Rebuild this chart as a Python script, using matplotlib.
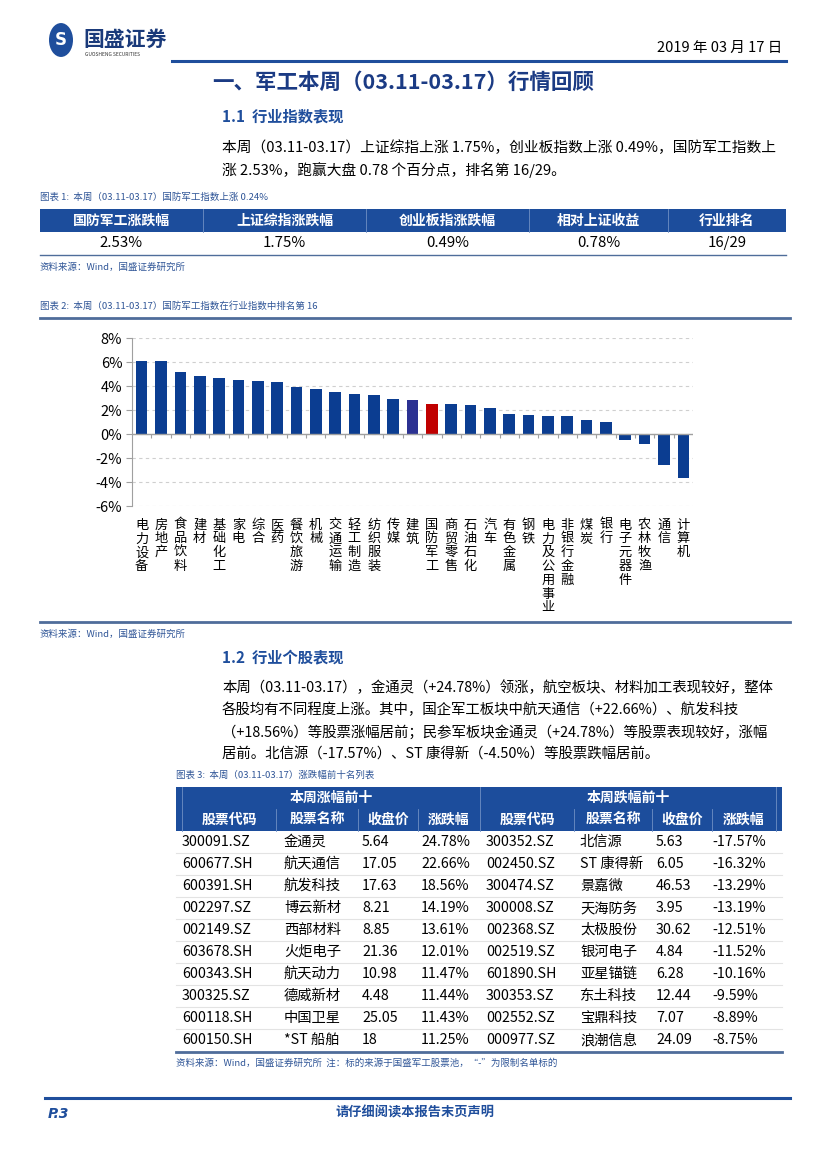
import numpy as np
import matplotlib
matplotlib.use('Agg')
import matplotlib.pyplot as plt
from matplotlib.patches import Rectangle, Circle
from matplotlib.ticker import MultipleLocator, FuncFormatter

plt.rcParams['font.family'] = ['Noto Sans CJK SC', 'DejaVu Sans']

W, H = 827, 1169

# ---------------- dados ----------------
industries = ['电力设备', '房地产', '食品饮料', '建材', '基础化工', '家电', '综合', '医药',
              '餐饮旅游', '机械', '交通运输', '轻工制造', '纺织服装', '传媒', '建筑', '国防军工',
              '商贸零售', '石油石化', '汽车', '有色金属', '钢铁', '电力及公用事业', '非银行金融',
              '煤炭', '银行', '电子元器件', '农林牧渔', '通信', '计算机']
pct = [6.11, 6.10, 5.15, 4.80, 4.68, 4.46, 4.38, 4.30, 3.93, 3.76, 3.52, 3.31, 3.24, 2.88,
       2.80, 2.53, 2.53, 2.45, 2.15, 1.68, 1.60, 1.52, 1.50, 1.18, 1.02, -0.47, -0.84, -2.58, -3.66]

t1_head = ['国防军工涨跌幅', '上证综指涨跌幅', '创业板指涨跌幅', '相对上证收益', '行业排名']
t1_vals = ['2.53%', '1.75%', '0.49%', '0.78%', '16/29']

t3_groups = ['本周涨幅前十', '本周跌幅前十']
t3_head = ['股票代码', '股票名称', '收盘价', '涨跌幅']
up_codes = ['300091.SZ', '600677.SH', '600391.SH', '002297.SZ', '002149.SZ',
            '603678.SH', '600343.SH', '300325.SZ', '600118.SH', '600150.SH']
up_names = ['金通灵', '航天通信', '航发科技', '博云新材', '西部材料',
            '火炬电子', '航天动力', '德威新材', '中国卫星', '*ST 船舶']
up_close = ['5.64', '17.05', '17.63', '8.21', '8.85', '21.36', '10.98', '4.48', '25.05', '18']
up_pct = ['24.78%', '22.66%', '18.56%', '14.19%', '13.61%', '12.01%', '11.47%', '11.44%', '11.43%', '11.25%']
down_codes = ['300352.SZ', '002450.SZ', '300474.SZ', '300008.SZ', '002368.SZ',
              '002519.SZ', '601890.SH', '300353.SZ', '002552.SZ', '000977.SZ']
down_names = ['北信源', 'ST 康得新', '景嘉微', '天海防务', '太极股份',
              '银河电子', '亚星锚链', '东土科技', '宝鼎科技', '浪潮信息']
down_close = ['5.63', '6.05', '46.53', '3.95', '30.62', '4.84', '6.28', '12.44', '7.07', '24.09']
down_pct = ['-17.57%', '-16.32%', '-13.29%', '-13.19%', '-12.51%', '-11.52%', '-10.16%', '-9.59%', '-8.89%', '-8.75%']

para1 = ['本周（03.11-03.17）上证综指上涨 1.75%，创业板指数上涨 0.49%，国防军工指数上',
         '涨 2.53%，跑赢大盘 0.78 个百分点，排名第 16/29。']
para2 = ['本周（03.11-03.17），金通灵（+24.78%）领涨，航空板块、材料加工表现较好，整体',
         '各股均有不同程度上涨。其中，国企军工板块中航天通信（+22.66%）、航发科技',
         '（+18.56%）等股票涨幅居前；民参军板块金通灵（+24.78%）等股票表现较好，涨幅',
         '居前。北信源（-17.57%）、ST 康得新（-4.50%）等股票跌幅居前。']

# ---------------- cores ----------------
AZUL = '#0b3d91'
AZUL_HEAD = '#1c4d9c'
AZUL_TXT = '#2f5597'
LINHA = '#4f6d9a'

fig = plt.figure(figsize=(W / 100, H / 100), dpi=100)


def T(x, y, s, **kw):
    kw.setdefault('va', 'center')
    fig.text(x / W, 1 - y / H, s, **kw)


def R(x0, y0, x1, y1, color):
    fig.add_artist(Rectangle((x0 / W, 1 - y1 / H), (x1 - x0) / W, (y1 - y0) / H,
                             transform=fig.transFigure, facecolor=color, lw=0))


def HL(x0, x1, y, color, lw):
    fig.add_artist(plt.Line2D([x0 / W, x1 / W], [1 - y / H, 1 - y / H],
                              transform=fig.transFigure, color=color, lw=lw))


def VL(x, y0, y1, color, lw):
    fig.add_artist(plt.Line2D([x / W, x / W], [1 - y0 / H, 1 - y1 / H],
                              transform=fig.transFigure, color=color, lw=lw))


# ---------------- cabecalho ----------------
fig.add_artist(Circle((61 / W, 1 - 40 / H), 12 / W, transform=fig.transFigure,
                      facecolor='#1f4e9c', edgecolor='none'))
T(61, 40, 'S', ha='center', color='white', fontsize=12, fontweight='bold', family='DejaVu Sans')
T(83, 39, '国盛证券', fontsize=15, fontweight='bold', color='#1a3a7a')
T(85, 55, 'GUOSHENG SECURITIES', fontsize=3.5, color='#333333')
T(782, 48, '2019 年 03 月 17 日', ha='right', fontsize=10.5)
HL(172, 786, 61, '#1f4e9c', 2.2)

T(403, 82, '一、军工本周（03.11-03.17）行情回顾', ha='center', fontsize=15.5, fontweight='bold', color='#1b3b84')
T(222, 116, '1.1  行业指数表现', fontsize=11, fontweight='bold', color='#1f4e9c')
for i, s in enumerate(para1):
    T(222, 148 + 22 * i, s, fontsize=10.6)

# ---------------- tabela 1 ----------------
T(40, 197, '图表 1:  本周（03.11-03.17）国防军工指数上涨 0.24%', fontsize=6.8, color=AZUL_TXT)
t1_x = [40, 203, 366, 529, 668, 786]
R(t1_x[0], 209, t1_x[-1], 232, AZUL_HEAD)
for j in range(len(t1_head)):
    cx = (t1_x[j] + t1_x[j + 1]) / 2
    T(cx, 220.5, t1_head[j], ha='center', fontsize=10, fontweight='bold', color='white')
    T(cx, 243, t1_vals[j], ha='center', fontsize=10.8)
    if j > 0:
        VL(t1_x[j], 209, 232, '#6f8fc4', 0.6)
HL(t1_x[0], t1_x[-1], 255, LINHA, 1.0)
T(40, 267, '资料来源：Wind，国盛证券研究所', fontsize=6.8, color=AZUL_TXT)

# ---------------- grafico ----------------
T(40, 306, '图表 2:  本周（03.11-03.17）国防军工指数在行业指数中排名第 16', fontsize=6.8, color=AZUL_TXT)
HL(40, 790, 318, LINHA, 2.0)

cores = [AZUL] * len(industries)
cores[industries.index('建筑')] = '#2b3192'
cores[industries.index('国防军工')] = '#c00000'

ax = fig.add_axes([132 / W, 1 - 506 / H, (693 - 132) / W, (506 - 338) / H])
x = np.arange(len(industries))
ax.bar(x, pct, width=0.6, color=cores, zorder=3)
ax.set_xlim(-0.5, len(industries) - 0.5)
ax.set_ylim(-6, 8)
ax.yaxis.set_major_locator(MultipleLocator(2))
ax.yaxis.set_major_formatter(FuncFormatter(lambda v, p: f'{v:.0f}%'))
ax.yaxis.grid(True, ls=(0, (3, 3)), color='#cfcfcf', lw=0.8)
ax.set_axisbelow(True)
for s in ['top', 'right', 'bottom']:
    ax.spines[s].set_visible(False)
ax.spines['left'].set_color('#a0a0a0')
ax.tick_params(axis='y', length=4, color='#a0a0a0', labelsize=10.5, pad=3)
ax.set_xticks([])
ax.axhline(0, color='#a0a0a0', lw=1, zorder=4)
ax.vlines(np.arange(0.5, len(industries) - 0.5, 1), -0.3, 0, color='#a0a0a0', lw=0.8, zorder=4)
for i, nome in enumerate(industries):
    ax.text(i, -0.075, '\n'.join(nome), transform=ax.get_xaxis_transform(),
            ha='center', va='top', fontsize=9.5, linespacing=1.08)

HL(40, 790, 622, LINHA, 2.0)
T(40, 634, '资料来源：Wind，国盛证券研究所', fontsize=6.8, color=AZUL_TXT)

# ---------------- 1.2 ----------------
T(222, 657, '1.2  行业个股表现', fontsize=11, fontweight='bold', color='#1f4e9c')
for i, s in enumerate(para2):
    T(222, 688 + 22 * i, s, fontsize=10.4)

# ---------------- tabela 3 ----------------
T(176, 775, '图表 3:  本周（03.11-03.17）涨跌幅前十名列表', fontsize=6.8, color=AZUL_TXT)
t3_x = [182, 276, 358, 418, 480, 574, 652, 712, 776]
R(176, 787, 782, 831, AZUL_HEAD)
T((t3_x[0] + t3_x[4]) / 2, 798, t3_groups[0], ha='center', fontsize=10, fontweight='bold', color='white')
T((t3_x[4] + t3_x[8]) / 2, 798, t3_groups[1], ha='center', fontsize=10, fontweight='bold', color='white')
for j in range(8):
    T((t3_x[j] + t3_x[j + 1]) / 2, 820, t3_head[j % 4], ha='center', fontsize=10,
      fontweight='bold', color='white')
for xb in t3_x:
    VL(xb, 809 if xb not in (t3_x[0], t3_x[4], t3_x[8]) else 787, 831, '#6f8fc4', 0.6)

cols = [up_codes, up_names, up_close, up_pct, down_codes, down_names, down_close, down_pct]
off = [0, 8, 4, 3, 6, 6, 4, 0]
for r in range(10):
    yc = 842 + 22 * r
    if r > 0:
        HL(176, 782, yc - 11, '#e3e3e3', 0.8)
    for j, col in enumerate(cols):
        T(t3_x[j] + off[j], yc, col[r], fontsize=10.3)
HL(176, 782, 1052, LINHA, 2.0)
T(176, 1063, '资料来源：Wind，国盛证券研究所  注：标的来源于国盛军工股票池，“-”为限制名单标的',
  fontsize=6.8, color=AZUL_TXT)

# ---------------- rodape ----------------
HL(45, 790, 1098, '#1f4e9c', 2.2)
T(48, 1114, 'P.3', fontsize=10, fontweight='bold', style='italic', color='#1f4e9c', family='DejaVu Sans')
T(415, 1113, '请仔细阅读本报告末页声明', ha='center', fontsize=9.5, fontweight='bold', color='#1f4e9c')

fig.savefig('out.png', dpi=100)
